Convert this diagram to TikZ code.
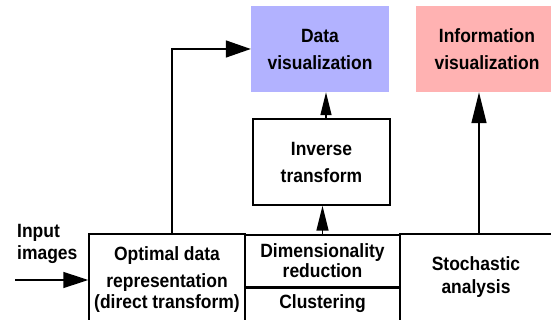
\documentclass[tikz,border=0pt]{standalone}
\usepackage{fontspec}
\setmainfont{Liberation Sans}[FakeStretch=0.91]
\usetikzlibrary{arrows.meta}
\usetikzlibrary{positioning}
\usepackage{xcolor}
\definecolor{datablue}{RGB}{178,178,255}
\definecolor{infopink}{RGB}{255,178,178}
\tikzset{
 box/.style={draw=black, line width=1.5pt, align=center, inner sep=0pt},
 vis/.style={fill=#1, align=center, inner sep=0pt, minimum height=86pt},
 lbl/.style={font=\fontsize{19.2}{26}\selectfont\bfseries},
 arr/.style 2 args={line width=1.5pt, -{Triangle[length=#1,width=#2]}}
}

\begin{document}
\begin{tikzpicture}[x=1pt,y=-1pt]
\useasboundingbox (0,0) rectangle (551,320);
\clip (0,0) rectangle (551,320);
\node[vis=datablue,lbl,minimum width=138pt] (datavis) at (320,49) {Data\\[1pt]visualization};
\node[vis=infopink,lbl,minimum width=142pt] (infovis) at (487,49) {Information\\[1pt]visualization};
\node[box,lbl,minimum width=137pt,minimum height=86pt] (inv) at (321.5,162) {Inverse\\[1pt]transform};
\node[box,lbl,minimum width=156pt,minimum height=92pt] (optim) at (167,280) {Optimal data\\[1pt]representation\\[-5pt](direct transform)};
\node[box,lbl,minimum width=155pt,minimum height=52pt] (dimred) at (322.5,261) {Dimensionality\\[-6pt]reduction};
\node[box,lbl,minimum width=155pt,minimum height=40pt,text height=12pt,text depth=12pt,below=0pt of dimred] (clust) {Clustering};
\node[box,lbl,minimum width=152pt,minimum height=87pt] (stoch) at (476,277.5) {Stochastic\\[-3pt]analysis};
\node[lbl,align=left,anchor=west,inner sep=0pt] (inp) at (17,244) {Input\\[-4pt]images};
\coordinate (src) at (15,280);
\draw[arr={25pt}{16pt}] (src) -- (optim);
\draw[arr={25pt}{17pt}] ([xshift=5pt]optim.north) |- (datavis);
\draw[arr={25pt}{12pt}] (dimred.north) -- (dimred.north |- inv.south);
\draw[arr={23pt}{11pt}] ([xshift=4.5pt]inv.north) -- ([xshift=4.5pt]inv.north |- datavis.south);
\draw[arr={31pt}{15pt}] ([xshift=3pt]stoch.north) -- ([xshift=3pt]stoch.north |- infovis.south);
\end{tikzpicture}
\end{document}
